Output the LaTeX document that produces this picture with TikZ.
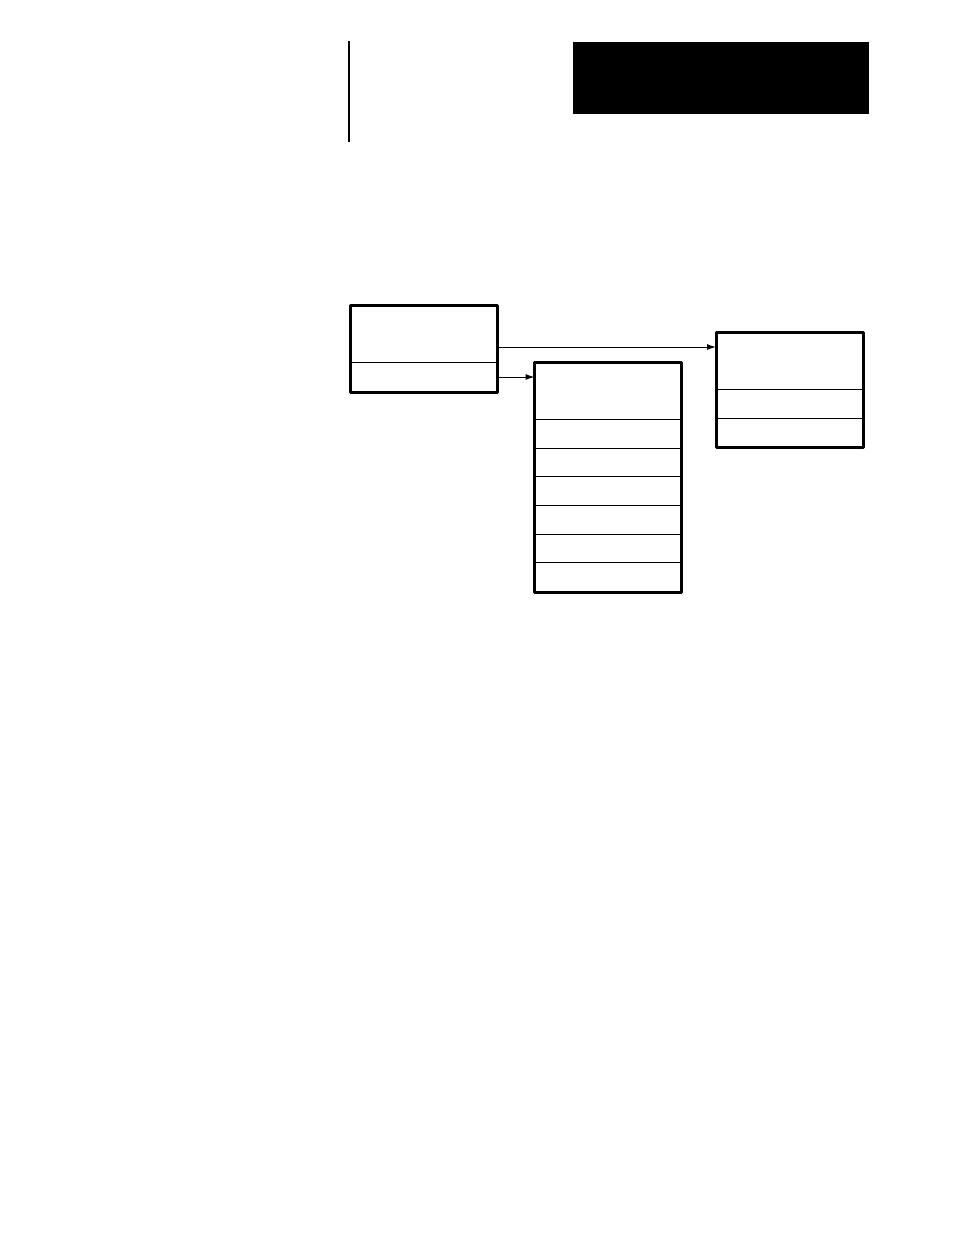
\documentclass[tikz,border=0pt]{standalone}
\usetikzlibrary{arrows.meta}
\begin{document}
\begin{tikzpicture}
  [
  x=1pt, y=-1pt, line width=1pt, draw=black,
  cell/.style={rectangle, draw=black, line width=1pt, inner sep=0pt, minimum width=146pt, anchor=north west},
  frame/.style={draw=black, line width=3pt, line join=round},
  link/.style={-{Latex[length=9pt,width=6pt]}, line width=1pt}
  ]
\useasboundingbox (0,0) rectangle (954,1235);

% header bar and rule
\node[fill=black, inner sep=0pt, minimum width=296pt, minimum height=72pt, anchor=north west] (title) at (572,41) {};
\draw[line width=1.3pt] (349,41) -- (349,142);

% left box
\node[cell, minimum height=57pt] (a1) at (350.5,305) {};
\node[cell, minimum height=29pt] (a2) at (350.5,362) {};
\draw[frame] (a1.north west) rectangle (a2.south east);

% middle box
\node[cell, minimum height=57pt] (b0) at (534.5,362) {};
\foreach \r in {1,2,3,4,5,6} {
  \node[cell, minimum height=28.67pt] (b\r) at (534.5,419+28.67*\r-28.67) {};
}
\draw[frame] (b0.north west) rectangle (b6.south east);

% right box
\node[cell, minimum height=57pt] (c1) at (716,332) {};
\node[cell, minimum height=29pt] (c2) at (716,389) {};
\node[cell, minimum height=28pt] (c3) at (716,418) {};
\draw[frame] (c1.north west) rectangle (c3.south east);

\draw[link] (a1.south east |- 0,347) -- (c1.west |- 0,347);
\draw[link] (a2.east) -- (a2.east -| b0.west);
\end{tikzpicture}
\end{document}
